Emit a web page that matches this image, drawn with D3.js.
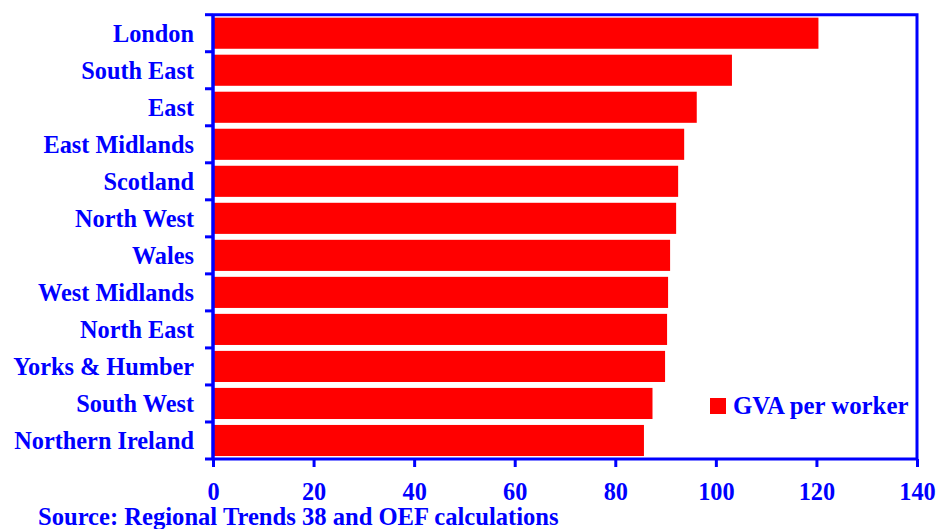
<!DOCTYPE html>
<html><head><meta charset="utf-8">
<script src="https://cdn.jsdelivr.net/npm/d3@7"></script>
<style>body{margin:0;background:#fff}svg{display:block}</style>
</head><body>
<svg id="c" width="936" height="529"></svg>
<script>
const categories = ["London","South East","East","East Midlands","Scotland","North West","Wales","West Midlands","North East","Yorks & Humber","South West","Northern Ireland"];
const values = [120.4,103.2,96.2,93.7,92.5,92.1,90.9,90.5,90.3,89.9,87.4,85.7];
const xTicks = [0,20,40,60,80,100,120,140];
const seriesName = "GVA per worker";
const sourceText = "Source: Regional Trends 38 and OEF calculations";

const blue = "#0000ff", red = "#ff0000";
const font = "'Liberation Serif','Times New Roman',serif";
const fs = 24.3;
const svg = d3.select("#c");
const L = 213, R = 917, T = 14.7, B = 459;
const x = d3.scaleLinear().domain([0,140]).range([L,R]);
const y = d3.scaleBand().domain(categories).range([T,B]).paddingInner(0.16).paddingOuter(0.08);

// bars
svg.append("g").selectAll("rect").data(values).join("rect")
  .attr("x", x(0)).attr("y", (d,i)=>y(categories[i]))
  .attr("width", d=>x(d)-x(0)).attr("height", y.bandwidth())
  .attr("fill", red);

// frame (top & right)
svg.append("path").attr("d", `M${L},${T}H${R}V${B}`).attr("fill","none").attr("stroke",blue).attr("stroke-width",3);

// x axis
const xa = svg.append("g").attr("transform",`translate(0,${B})`)
  .call(d3.axisBottom(x).tickValues(xTicks).tickSize(8).tickPadding(16).tickFormat(d3.format("d")));
xa.select(".domain").attr("stroke",blue).attr("stroke-width",3).attr("d",`M${L},0H${R}`);
xa.selectAll(".tick line").attr("stroke",blue).attr("stroke-width",3);
xa.selectAll(".tick text").attr("fill",blue).attr("font-family",font).attr("font-weight","bold").attr("font-size",fs);

// y axis: ticks at band boundaries
const ya = svg.append("g").attr("transform",`translate(${L},0)`);
ya.append("line").attr("x1",0).attr("x2",0).attr("y1",T).attr("y2",B).attr("stroke",blue).attr("stroke-width",3.5);
const bounds = d3.range(categories.length+1).map(i=> T + i*(B-T)/categories.length);
ya.selectAll(".yt").data(bounds).join("line").attr("class","yt")
  .attr("x1",-8).attr("x2",0).attr("y1",d=>d).attr("y2",d=>d).attr("stroke",blue).attr("stroke-width",3);
ya.selectAll(".yl").data(categories).join("text").attr("class","yl")
  .attr("x",-19).attr("y",d=>y(d)+y.bandwidth()/2).attr("dy","0.35em")
  .attr("text-anchor","end").attr("fill",blue).attr("font-family",font).attr("font-weight","bold").attr("font-size",fs)
  .text(d=>d);

// legend
svg.append("rect").attr("x",710).attr("y",398).attr("width",16).attr("height",16).attr("fill",red);
svg.append("text").attr("x",733).attr("y",414).attr("fill",blue).attr("font-family",font).attr("font-weight","bold").attr("font-size",24.8).text(seriesName);

// source
svg.append("text").attr("x",38).attr("y",525).attr("fill",blue).attr("font-family",font).attr("font-weight","bold").attr("font-size",24.6).text(sourceText);
</script>
</body></html>
